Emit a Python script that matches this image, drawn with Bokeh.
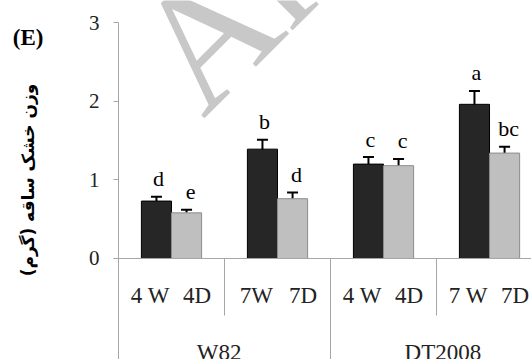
import math
from bokeh.plotting import figure
from bokeh.models import (Range1d, FixedTicker, Span, Label, ColumnDataSource,
                          Whisker, TeeHead, LinearAxis)
from bokeh.core.properties import value
from bokeh.embed import file_html
from bokeh.resources import INLINE

# ---- data ----
cultivars = ["W82", "DT2008"]
treatments = ["4 W", "4D", "7W", "7D", "4 W", "4D", "7 W", "7D"]
well_watered = [0.73, 1.39, 1.20, 1.96]      # dark bars (W)
drought = [0.58, 0.76, 1.18, 1.34]           # light bars (D)
err_w = [0.055, 0.12, 0.09, 0.17]
err_d = [0.04, 0.08, 0.085, 0.08]
letters_w = ["d", "b", "c", "a"]
letters_d = ["e", "d", "c", "bc"]
y_ticks = [0, 1, 2, 3]
y_label = "وزن خشک ساقه (گرم)"
panel_tag = "(E)"
watermark = "Archive of SID"

SERIF = "Liberation Serif"
GREY = "#a6a6a6"

n = len(well_watered)
centers = [i + 0.5 for i in range(n)]
half = 0.142
bw = 0.284
xw = [c - half for c in centers]
xd = [c + half for c in centers]

p = figure(width=531, height=359, output_backend="svg", toolbar_location=None,
           x_axis_location=None, x_range=Range1d(0, 3.896), y_range=Range1d(-1.284, 3.2797),
           min_border_left=118, min_border_right=0, min_border_top=0, min_border_bottom=0)
p.outline_line_color = None
p.grid.visible = False
p.background_fill_color = "white"
p.border_fill_color = "white"

yax = p.yaxis[0]
yax.ticker = FixedTicker(ticks=y_ticks)
yax.bounds = (-1.284, 3.0)
yax.minor_tick_line_color = None
yax.major_tick_in = 0
yax.major_tick_out = 5
yax.axis_line_color = GREY
yax.major_tick_line_color = GREY
yax.major_label_text_font = SERIF
yax.major_label_text_font_size = "21px"
yax.major_label_text_color = "#222222"
yax.major_label_standoff = 14

# second left axis: carries the panel tag "(E)" and the Persian y label
tag_y = 2.81
lab_mid = 1.144
tag_axis = LinearAxis(ticker=FixedTicker(ticks=[tag_y]),
                      major_label_overrides={tag_y: panel_tag},
                      bounds=(2 * lab_mid - tag_y - 0.01, tag_y + 0.01),
                      axis_line_color=None, major_tick_line_color=None,
                      minor_tick_line_color=None, major_tick_out=0, major_tick_in=0,
                      major_label_orientation="horizontal",
                      major_label_text_font=SERIF, major_label_text_font_style="bold",
                      major_label_text_font_size="23px", major_label_text_color="black",
                      major_label_standoff=42,
                      axis_label=y_label, axis_label_text_font="DejaVu Sans",
                      axis_label_text_font_style="bold", axis_label_text_font_size="17px",
                      axis_label_text_color="black", axis_label_standoff=-28)
p.add_layout(tag_axis, "left")

# watermark
wm = Label(x=0.42, y=2.28, text=watermark, angle=math.pi / 4,
           text_font=SERIF, text_font_size="170px", text_color="#c8c8c8",
           text_align="left", text_baseline="alphabetic", level="underlay")
p.add_layout(wm)

# bars
p.vbar(x=xw, top=well_watered, width=bw, bottom=0, fill_color="#262626", line_color="#000000", line_width=1)
p.vbar(x=xd, top=drought, width=bw, bottom=0, fill_color="#bfbfbf", line_color="#8c8c8c", line_width=1)

# error bars
src_w = ColumnDataSource(dict(x=xw, lo=[v - e for v, e in zip(well_watered, err_w)],
                              hi=[v + e for v, e in zip(well_watered, err_w)]))
src_d = ColumnDataSource(dict(x=xd, lo=drought,
                              hi=[v + e for v, e in zip(drought, err_d)]))
for src, lower_head in ((src_w, True), (src_d, False)):
    w = Whisker(source=src, base="x", upper="hi", lower="lo",
                line_color="black", line_width=2,
                upper_head=TeeHead(size=11, line_color="black", line_width=2),
                lower_head=TeeHead(size=11, line_color="black", line_width=2) if lower_head else None)
    p.add_layout(w)

# significance letters
p.text(x=xw, y=[v + e for v, e in zip(well_watered, err_w)], text=letters_w,
       text_font=value(SERIF), text_font_size="22px", text_align="center",
       text_baseline="alphabetic", y_offset=-18, x_offset=2, text_color="black")
p.text(x=xd, y=[v + e for v, e in zip(drought, err_d)], text=letters_d,
       text_font=value(SERIF), text_font_size="22px", text_align="center",
       text_baseline="alphabetic", y_offset=-18, x_offset=4, text_color="black")

# x axis line and category separators
p.add_layout(Span(location=0, dimension="width", line_color=GREY, line_width=1))
p.segment(x0=[1, 3], y0=[0, 0], x1=[1, 3], y1=[-0.725, -0.725], line_color=GREY, line_width=1)
p.segment(x0=[2], y0=[0], x1=[2], y1=[-1.3], line_color=GREY, line_width=1)

# treatment labels
tx = []
for c in centers:
    tx += [c - 0.2, c + 0.24]
p.text(x=tx, y=[-0.47] * len(tx), text=treatments, text_font=value(SERIF),
       text_font_size="23px", text_align="center", text_baseline="middle", text_color="#222222")
# cultivar labels
p.text(x=[0.95, 3.06], y=[-1.2, -1.2], text=cultivars, text_font=value(SERIF),
       text_font_size="23px", text_align="center", text_baseline="middle", text_color="#222222")

open("out.html", "w").write(file_html(p, INLINE))
